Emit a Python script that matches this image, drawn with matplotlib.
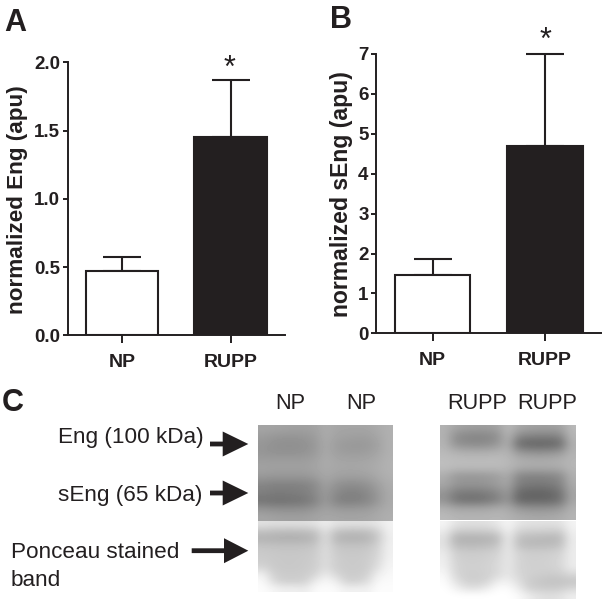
import matplotlib
matplotlib.use("Agg")
import matplotlib.pyplot as plt
from matplotlib.patches import FancyArrow
from matplotlib.transforms import Affine2D

W, H = 602, 599
INK = "#231f20"
plt.rcParams["font.family"] = ["Liberation Sans", "DejaVu Sans"]

groups = ["NP", "RUPP"]
eng_mean = [0.47, 1.45]
eng_err = [0.10, 0.42]
seng_mean = [1.45, 4.70]
seng_err = [0.42, 2.30]
eng_ticks = [0.0, 0.5, 1.0, 1.5, 2.0]
seng_ticks = [0, 1, 2, 3, 4, 5, 6, 7]
bar_colors = ["white", INK]

# grey levels, coarse grid (rows top to bottom)
blot_np_upper = [
    [165, 163, 162, 160, 160, 162, 172, 166, 165, 165, 165, 170, 176],
    [155, 150, 148, 148, 150, 155, 172, 162, 160, 158, 158, 165, 176],
    [150, 145, 143, 143, 145, 152, 170, 157, 153, 152, 153, 160, 176],
    [150, 146, 146, 146, 148, 154, 170, 160, 157, 156, 158, 165, 176],
    [158, 158, 158, 158, 158, 162, 172, 166, 165, 165, 166, 170, 178],
    [162, 160, 160, 160, 160, 164, 170, 167, 166, 166, 168, 172, 178],
    [152, 150, 150, 150, 150, 155, 168, 160, 158, 158, 160, 168, 176],
    [132, 128, 128, 128, 130, 138, 160, 146, 140, 140, 145, 158, 172],
    [128, 124, 124, 126, 128, 138, 156, 138, 130, 130, 136, 152, 170],
    [115, 112, 112, 114, 118, 130, 155, 132, 126, 128, 134, 150, 170],
    [150, 145, 144, 144, 145, 152, 162, 156, 154, 155, 156, 165, 172],
    [165, 162, 160, 160, 160, 164, 168, 166, 165, 165, 166, 170, 175],
]
blot_np_lower = [
    [225, 222, 222, 222, 222, 226, 238, 226, 224, 224, 224, 230, 242],
    [192, 188, 186, 186, 188, 194, 226, 194, 188, 188, 190, 205, 240],
    [178, 176, 175, 175, 176, 184, 222, 182, 177, 177, 180, 198, 238],
    [196, 194, 193, 193, 194, 198, 222, 198, 195, 195, 196, 208, 240],
    [202, 200, 199, 199, 200, 203, 222, 203, 200, 200, 202, 212, 240],
    [204, 201, 200, 200, 201, 205, 222, 206, 202, 202, 204, 216, 242],
    [212, 202, 200, 200, 202, 206, 222, 206, 202, 202, 204, 222, 245],
    [240, 208, 203, 203, 204, 212, 235, 215, 204, 204, 208, 238, 248],
    [250, 218, 206, 206, 208, 235, 248, 238, 210, 208, 220, 248, 250],
    [252, 245, 238, 240, 235, 250, 252, 250, 240, 242, 240, 252, 252],
]
blot_rupp_upper = [
    [178, 165, 160, 158, 158, 162, 185, 168, 162, 160, 160, 162, 185],
    [178, 142, 135, 133, 135, 142, 182, 138, 132, 130, 130, 134, 182],
    [180, 146, 140, 138, 140, 150, 176, 108, 100, 98, 100, 106, 176],
    [185, 178, 175, 174, 175, 178, 180, 152, 146, 144, 146, 152, 178],
    [190, 188, 188, 188, 188, 188, 185, 176, 173, 172, 173, 176, 182],
    [190, 186, 186, 186, 186, 186, 182, 172, 170, 170, 170, 172, 182],
    [172, 152, 150, 150, 152, 158, 172, 134, 130, 130, 132, 138, 176],
    [168, 152, 150, 150, 152, 158, 166, 128, 124, 122, 125, 132, 172],
    [150, 128, 124, 124, 128, 138, 156, 108, 102, 100, 104, 116, 166],
    [146, 116, 110, 110, 116, 128, 150, 102, 100, 100, 102, 112, 166],
    [176, 166, 165, 165, 166, 172, 170, 152, 146, 145, 146, 152, 176],
    [186, 181, 180, 180, 180, 183, 178, 172, 169, 168, 169, 172, 180],
]
blot_rupp_lower = [
    [245, 228, 224, 224, 225, 232, 246, 230, 226, 225, 225, 226, 244],
    [236, 206, 204, 204, 205, 212, 242, 212, 208, 208, 206, 206, 240],
    [226, 178, 176, 176, 178, 184, 236, 192, 186, 184, 182, 184, 236],
    [226, 188, 186, 186, 188, 196, 236, 192, 186, 186, 188, 192, 236],
    [234, 206, 203, 203, 205, 210, 232, 210, 205, 205, 206, 210, 236],
    [238, 210, 206, 206, 208, 214, 232, 212, 207, 207, 209, 214, 236],
    [240, 212, 208, 208, 210, 217, 232, 212, 208, 208, 209, 214, 236],
    [248, 214, 206, 206, 208, 216, 232, 214, 208, 206, 204, 206, 218],
    [252, 226, 208, 206, 212, 236, 240, 222, 204, 198, 194, 194, 196],
    [255, 242, 226, 224, 236, 252, 252, 236, 208, 204, 202, 204, 214],
    [255, 255, 255, 255, 255, 255, 255, 250, 236, 226, 222, 226, 238],
]

fig = plt.figure(figsize=(W / 100, H / 100), dpi=100)
px = Affine2D().scale(1, -1).translate(0, H)  # picture pixels, y down


def add_axes_px(left, top, right, bottom):
    return fig.add_axes([left / W, 1 - bottom / H, (right - left) / W, (bottom - top) / H])


def label(x, y, s, size, weight="normal", **kw):
    fig.text(x, y, s, transform=px, fontsize=size, fontweight=weight, color=INK, **kw)


def bar_panel(box, means, errs, ticks, ticklabels):
    ax = add_axes_px(*box)
    ax.bar(range(2), means, width=0.67, color=bar_colors, edgecolor=INK, linewidth=1.5, zorder=3)
    for i in range(2):
        ax.errorbar(i, means[i], yerr=[[0], [errs[i]]], color=INK, elinewidth=1.5,
                    capsize=13.5, capthick=1.5, clip_on=False, zorder=2)
    ax.set_xlim(-0.5, 1.5)
    ax.set_ylim(ticks[0], ticks[-1])
    ax.set_yticks(ticks)
    ax.set_yticklabels(ticklabels, fontsize=13.5, fontweight="bold", color=INK)
    ax.set_xticks(range(2))
    ax.set_xticklabels(groups, fontsize=14, fontweight="bold", color=INK)
    ax.tick_params(axis="y", length=3.6, width=1.4, color=INK, pad=2)
    ax.tick_params(axis="x", length=5.8, width=1.4, color=INK, pad=8)
    ax.spines["top"].set_visible(False)
    ax.spines["right"].set_visible(False)
    ax.spines["left"].set_linewidth(1.4)
    ax.spines["bottom"].set_linewidth(1.4)
    ax.spines["left"].set_color(INK)
    ax.spines["bottom"].set_color(INK)
    return ax


bar_panel((67.7, 62.3, 285, 335.3), eng_mean, eng_err, eng_ticks,
          ["%.1f" % t for t in eng_ticks])
bar_panel((376.3, 54, 601.3, 333.3), seng_mean, seng_err, seng_ticks,
          [str(t) for t in seng_ticks])

label(18, 200, "normalized Eng (apu)", 16.2, "bold", rotation=90, ha="center", va="center")
label(341.5, 194, "normalized sEng (apu)", 16.6, "bold", rotation=90, ha="center", va="center")

label(229, 77, "*", 22, ha="center", va="baseline")
label(545, 49, "*", 22, ha="center", va="baseline")

label(4, 30.7, "A", 22, "bold")
label(330, 28, "B", 22, "bold")
label(2, 410.7, "C", 22, "bold")

# panel C
label(290, 409, "NP", 15.6, ha="center")
label(361, 409, "NP", 15.6, ha="center")
label(477, 409, "RUPP", 15.6, ha="center")
label(547, 409, "RUPP", 15.6, ha="center")

label(58, 443, "Eng (100 kDa)", 16.2)
label(58, 501, "sEng (65 kDa)", 16.2)
label(11, 558, "Ponceau stained", 16.2)
label(11, 585.7, "band", 16.2)

for x0, y0, head_len in [(210, 444, 25.6), (210, 493, 25.6), (191.7, 550.7, 24.3)]:
    fig.add_artist(FancyArrow(x0, y0, 248.3 - x0, 0, width=4.8, head_width=25, head_length=head_len,
                              length_includes_head=True, color=INK, linewidth=0, transform=px))

for box, grid in [((258.3, 425, 393.3, 521), blot_np_upper),
                  ((258.3, 521, 393.3, 591.7), blot_np_lower),
                  ((440, 425, 575.3, 520.5), blot_rupp_upper),
                  ((440, 520.5, 575.3, 599), blot_rupp_lower)]:
    ax = add_axes_px(*box)
    ax.imshow(grid, cmap="gray", vmin=0, vmax=255, aspect="auto", interpolation="bicubic")
    ax.axis("off")

fig.savefig("out.png", dpi=100)
